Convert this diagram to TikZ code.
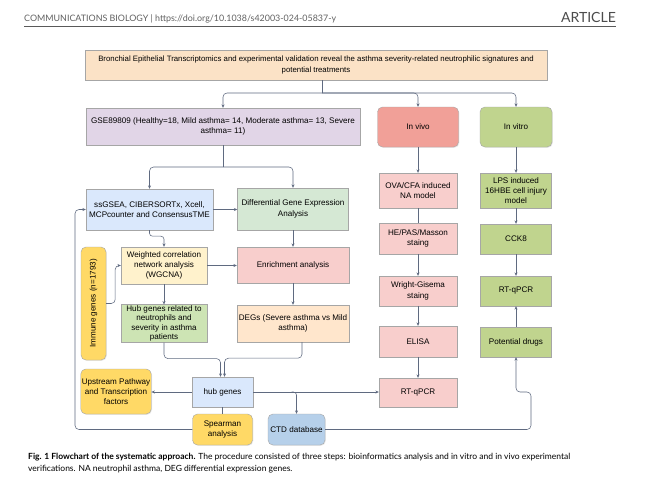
\documentclass[tikz,border=0pt]{standalone}
\usepackage{fontspec}
\setmainfont{Liberation Sans}
\newfontfamily\capfont{Lato}
\usepackage{graphicx}
\usetikzlibrary{arrows.meta, positioning, shadows}
\definecolor{titlefill}{RGB}{251,226,198}
\definecolor{gsefill}{RGB}{225,213,231}
\definecolor{bluefill}{RGB}{218,232,252}
\definecolor{greenfill}{RGB}{213,232,212}
\definecolor{hubgreen}{RGB}{205,228,180}
\definecolor{yellowfill}{RGB}{255,242,204}
\definecolor{pinkfill}{RGB}{248,206,204}
\definecolor{peachfill}{RGB}{255,230,204}
\definecolor{goldfill}{RGB}{255,217,102}
\definecolor{ctdfill}{RGB}{182,208,234}
\definecolor{vivofill}{RGB}{241,160,152}
\definecolor{vitrofill}{RGB}{192,212,142}
\definecolor{linec}{RGB}{95,106,128}
\definecolor{rulec}{RGB}{90,90,90}

\begin{document}
\begin{tikzpicture}[
  x=1pt, y=-1pt,
  font=\fontsize{8.1}{10.2}\selectfont,
  box/.style={rectangle, draw=black!35, fill=#1, align=center, inner sep=1pt,
              drop shadow={shadow xshift=0.8pt, shadow yshift=-0.8pt, opacity=0.18}},
  rbox/.style={box=#1, rounded corners=5pt},
  arr/.style={-{Stealth[length=3.4pt, width=3pt]}, draw=linec, line width=0.55pt},
  plain/.style={draw=linec, line width=0.55pt}
]
\useasboundingbox (0,0) rectangle (650,479);
\fill[white] (0,0) rectangle (650,479);

% page header
\node[anchor=west, inner sep=0pt, text=black!62,
      font=\capfont\fontsize{8.9}{10}\selectfont] (hdr) at (24,19)
  {COMMUNICATIONS BIOLOGY | https://doi.org/10.1038/s42003-024-05837-y};
\node[anchor=east, inner sep=0pt, text=black!70,
      font=\capfont\fontsize{14}{16}\selectfont] (art) at (616,17) {ARTICLE};
\draw[rulec, line width=1pt] ([yshift=-3.5pt]hdr.south west) -- ([yshift=-3.5pt]hdr.south west -| art.east);

% title
\node[box=titlefill, minimum width=462, minimum height=30,
      font=\fontsize{7.8}{10.5}\selectfont] (title) at (316,65)
  {Bronchial Epithelial Transcriptomics and experimental validation reveal the asthma severity-related neutrophilic signatures and\\potential treatments};

% bioinformatics branch
\node[box=gsefill, minimum width=274, minimum height=37] (gse) at (223,126.5)
  {GSE89809 (Healthy=18, Mild asthma= 14, Moderate asthma= 13, Severe\\asthma= 11)};
\node[box=bluefill, minimum width=127, minimum height=41] (ssgsea) at (149.5,209.5)
  {ssGSEA, CIBERSORTx, Xcell,\\MCPcounter and ConsensusTME};
\node[box=greenfill, minimum width=111, minimum height=42] (dge) at (293,209)
  {Differential Gene Expression\\Analysis};
\node[box=yellowfill, minimum width=86, minimum height=37] (wgcna) at (164,265.5)
  {Weighted correlation\\network analysis\\(WGCNA)};
\node[box=pinkfill, minimum width=112, minimum height=36] (enrich) at (293,265)
  {Enrichment analysis};
\node[box=hubgreen, minimum width=86, minimum height=37,
      font=\fontsize{8.1}{9.4}\selectfont] (hubrel) at (164,323.5)
  {Hub genes related to\\neutrophils and\\severity in asthma\\patients};
\node[box=peachfill, minimum width=112, minimum height=37] (degs) at (293,323.5)
  {DEGs (Severe asthma vs Mild\\asthma)};
\node[rbox=goldfill, minimum width=25, minimum height=113] (immune) at (93.5,303.5)
  {\rotatebox{90}{Immune genes (n=1793)}};
\node[box=bluefill, minimum width=61, minimum height=30] (hub) at (222.5,392)
  {hub genes};
\node[rbox=goldfill, minimum width=70, minimum height=45] (upstream) at (116,391.5)
  {Upstream Pathway\\and Transcription\\factors};
\node[rbox=goldfill, minimum width=60, minimum height=31] (spearman) at (222.5,429.5)
  {Spearman\\analysis};
\node[rbox=ctdfill, minimum width=57, minimum height=31] (ctd) at (296.5,429.5)
  {CTD database};

% in vivo branch
\node[rbox=vivofill, minimum width=81, minimum height=40] (invivo) at (418,127) {In vivo};
\node[box=pinkfill, minimum width=78, minimum height=35] (ova) at (418,190.5)
  {OVA/CFA induced\\NA model};
\node[box=pinkfill, minimum width=78, minimum height=31] (he) at (418,238.5)
  {HE/PAS/Masson\\staing};
\node[box=pinkfill, minimum width=78, minimum height=30] (wright) at (418,291)
  {Wright-Gisema\\staing};
\node[box=pinkfill, minimum width=78, minimum height=31] (elisa) at (418,341.5) {ELISA};
\node[box=pinkfill, minimum width=78, minimum height=29] (rtvivo) at (418,392.5) {RT-qPCR};

% in vitro branch
\node[rbox=vitrofill, minimum width=72, minimum height=40] (invitro) at (516,127) {In vitro};
\node[box=vitrofill, minimum width=71, minimum height=35] (lps) at (516,190.5)
  {LPS induced\\16HBE cell injury\\model};
\node[box=vitrofill, minimum width=71, minimum height=30] (cck) at (516,239) {CCK8};
\node[box=vitrofill, minimum width=71, minimum height=30] (rtvitro) at (516,291) {RT-qPCR};
\node[box=vitrofill, minimum width=71, minimum height=30] (drugs) at (516,342) {Potential drugs};

% caption
\node[anchor=north west, inner sep=0pt, align=left,
      font=\capfont\fontsize{8.5}{11.5}\selectfont] (cap) at (28,453)
  {\textbf{Fig. 1 Flowchart of the systematic approach.} The procedure consisted of three steps: bioinformatics analysis and in vitro and in vivo experimental\\
   verifications. NA neutrophil asthma, DEG differential expression genes.};

% connectors from the title
\coordinate (fork) at (322,93);
\draw[plain] (title.south -| fork) -- (fork);
\draw[arr, rounded corners=4pt] (fork) -| (gse.north);
\draw[arr, rounded corners=4pt] (fork) -| (invivo.north);
\draw[arr, rounded corners=4pt] (fork) -| (invitro.north);

% bioinformatics flow
\coordinate (gfork) at (223,167);
\draw[plain] (gse.south) -- (gfork);
\draw[arr, rounded corners=4pt] (gfork) -| (ssgsea.north);
\draw[arr, rounded corners=4pt] (gfork) -| (dge.north);
\draw[arr] (ssgsea.east) -- (ssgsea.east -| dge.west);
\draw[arr, rounded corners=3pt] (ssgsea.south) -- ++(0,6) -| (wgcna.north);
\draw[arr] (dge.south) -- (enrich.north);
\draw[arr] (wgcna.east) -- (wgcna.east -| enrich.west);
\draw[arr] (enrich.south) -- (degs.north);
\draw[arr] (wgcna.south) -- (hubrel.north);
\draw[arr, rounded corners=4pt] (immune.east) -- ++(9,0) |- (wgcna.west);
\draw[arr, rounded corners=4pt] (hubrel.south) -- ++(0,16) -| ([xshift=-2pt]hub.north);
\draw[arr, rounded corners=4pt] ([xshift=9pt]degs.south) -- ++(0,16) -| ([xshift=2pt]hub.north);
\draw[arr] (hub.west) -- (hub.west -| upstream.east);
\draw[arr] (hub.east) -- (hub.east -| rtvivo.west);
\draw[arr, rounded corners=3pt] ([xshift=-5pt]hub.east -| ctd.north) -| (ctd.north);
\draw[plain] (hub.south) -- (spearman.north);

% feedback loops
\coordinate (loopL) at (75,0);
\draw[arr, rounded corners=4pt] (spearman.west) -- (spearman.west -| loopL)
  -- (ssgsea.west -| loopL) -- (ssgsea.west);
\coordinate (loopR) at (531,392);
\draw[arr, rounded corners=4pt] (ctd.east) -| (loopR) -- (loopR -| drugs.south) -- (drugs.south);

% in vivo flow
\draw[arr] (invivo.south) -- (ova.north);
\draw[plain] (ova.south) -- (he.north);
\draw[arr] (he.south) -- (wright.north);
\draw[arr] (wright.south) -- (elisa.north);
\draw[arr] (elisa.south) -- (rtvivo.north);

% in vitro flow
\draw[arr] (invitro.south) -- (lps.north);
\draw[arr] (lps.south) -- (cck.north);
\draw[arr] (cck.south) -- (rtvitro.north);
\draw[arr] (drugs.north) -- (rtvitro.south);
\end{tikzpicture}
\end{document}
